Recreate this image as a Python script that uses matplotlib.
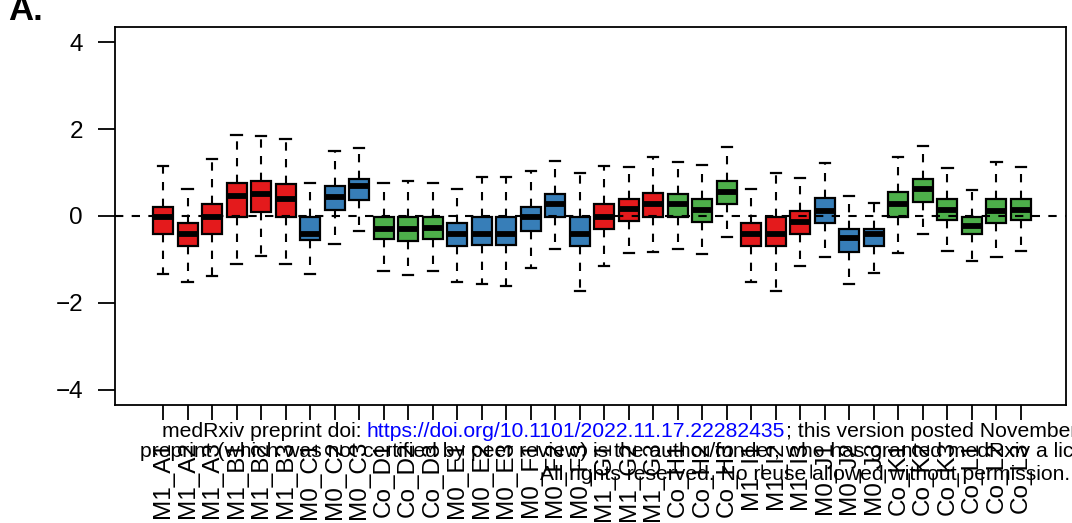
# Boxplot panel A: 36 samples, coloured by group prefix (M1 red, M0 blue, Co green)
import numpy as np
import matplotlib
matplotlib.use("Agg")
from matplotlib import pyplot as plt

plt.rcParams['font.family'] = ['Liberation Sans', 'DejaVu Sans']

# group letters and their prefix, three replicates each
groups = ['A', 'B', 'C', 'D', 'E', 'F', 'G', 'H', 'I', 'J', 'K', 'L']
prefixes = ['M1', 'M1', 'M0', 'Co', 'M0', 'M0', 'M1', 'Co', 'M1', 'M0', 'Co', 'Co']
labels = [f'{p}_{g}{i}' for g, p in zip(groups, prefixes) for i in (1, 2, 3)]

# box statistics
whis_hi = [1.15, 0.61, 1.30, 1.86, 1.85, 1.76, 0.77, 1.49, 1.56, 0.75, 0.80, 0.77,
           0.61, 0.90, 0.90, 1.04, 1.27, 1.00, 1.15, 1.13, 1.35, 1.25, 1.17, 1.58,
           0.62, 1.00, 0.87, 1.21, 0.46, 0.29, 1.35, 1.61, 1.11, 0.60, 1.23, 1.13]
q3 = [0.21, -0.15, 0.28, 0.77, 0.81, 0.74, -0.02, 0.69, 0.85, -0.02, -0.02, -0.02,
      -0.17, -0.02, -0.02, 0.21, 0.51, -0.02, 0.28, 0.39, 0.54, 0.51, 0.39, 0.80,
      -0.15, -0.02, 0.11, 0.41, -0.30, -0.30, 0.56, 0.84, 0.39, -0.02, 0.39, 0.39]
med = [-0.02, -0.41, -0.02, 0.46, 0.51, 0.40, -0.41, 0.43, 0.69, -0.30, -0.31, -0.28,
       -0.41, -0.41, -0.41, -0.02, 0.28, -0.41, -0.02, 0.15, 0.28, 0.28, 0.14, 0.56,
       -0.41, -0.41, -0.14, 0.12, -0.51, -0.41, 0.28, 0.61, 0.14, -0.23, 0.12, 0.14]
q1 = [-0.42, -0.70, -0.42, -0.02, 0.10, -0.02, -0.55, 0.14, 0.37, -0.52, -0.57, -0.52,
      -0.70, -0.67, -0.67, -0.34, -0.02, -0.70, -0.30, -0.11, -0.02, -0.02, -0.13, 0.28,
      -0.70, -0.70, -0.42, -0.15, -0.82, -0.70, -0.02, 0.33, -0.09, -0.42, -0.15, -0.09]
whis_lo = [-1.33, -1.52, -1.39, -1.10, -0.92, -1.10, -1.33, -0.65, -0.34, -1.26, -1.36, -1.26,
           -1.51, -1.57, -1.61, -1.19, -0.76, -1.72, -1.16, -0.84, -0.82, -0.76, -0.87, -0.49,
           -1.52, -1.72, -1.16, -0.95, -1.57, -1.32, -0.84, -0.41, -0.80, -1.03, -0.95, -0.80]

prefix_colors = {'M1': '#E41A1C', 'M0': '#377EB8', 'Co': '#4DAF4A'}

W, H = 1072, 523
fig = plt.figure(figsize=(W / 100, H / 100), dpi=100)
ax = fig.add_axes([115 / W, 1 - 405 / H, (1066 - 115) / W, (405 - 27) / H])

stats = []
for i in range(len(labels)):
    stats.append(dict(label=labels[i], whislo=whis_lo[i], q1=q1[i], med=med[i],
                      q3=q3[i], whishi=whis_hi[i], fliers=[]))

positions = np.arange(1, len(labels) + 1)
bp = ax.bxp(stats, positions=positions, widths=0.82, patch_artist=True, showfliers=False,
            boxprops=dict(edgecolor='black', linewidth=1.6),
            medianprops=dict(color='black', linewidth=4.2, solid_capstyle='butt'),
            whiskerprops=dict(color='black', linewidth=1.5, linestyle=(0, (4, 4))),
            capprops=dict(color='black', linewidth=1.6), capwidths=0.42)
for patch, lab in zip(bp['boxes'], labels):
    patch.set_facecolor(prefix_colors[lab[:2]])

ax.axhline(0, color='black', linewidth=1.5, linestyle=(0, (4, 4)), zorder=5)

ax.set_xlim(-0.96, 37.84)
ax.set_ylim(-4.345, 4.345)
ax.set_yticks([-4, -2, 0, 2, 4])
ax.set_yticklabels(['\u22124', '\u22122', '0', '2', '4'])
ax.set_xticks(positions)
ax.set_xticklabels(labels, rotation=90, va='top', ha='center')
ax.tick_params(axis='y', length=12, width=1.3, pad=11, labelsize=17.5)
ax.tick_params(axis='x', length=11, width=1.3, pad=15, labelsize=17.5)
for s in ax.spines.values():
    s.set_linewidth(1.3)

fig.text(8 / W, 1 - 20 / H, 'A.', fontsize=25, fontweight='bold', va='baseline', ha='left')

# medRxiv watermark over the bottom of the panel
wm = 15.2
fig.text(162 / W, 1 - 437 / H, 'medRxiv preprint doi: ', fontsize=wm, zorder=10)
fig.text(366 / W, 1 - 437 / H, 'https://doi.org/10.1101/2022.11.17.22282435', fontsize=wm,
         color='#0000FF', zorder=10)
fig.text(786 / W, 1 - 437 / H, '; this version posted November 21, 2022. The copyright holder for this',
         fontsize=wm, zorder=10)
fig.text(140 / W, 1 - 457 / H,
         'preprint (which was not certified by peer review) is the author/funder, who has granted '
         'medRxiv a license to display the preprint in perpetuity.', fontsize=wm, zorder=10)
fig.text(540 / W, 1 - 480 / H, 'All rights reserved. No reuse allowed without permission.',
         fontsize=wm, zorder=10)

fig.savefig('out.png', dpi=100)
